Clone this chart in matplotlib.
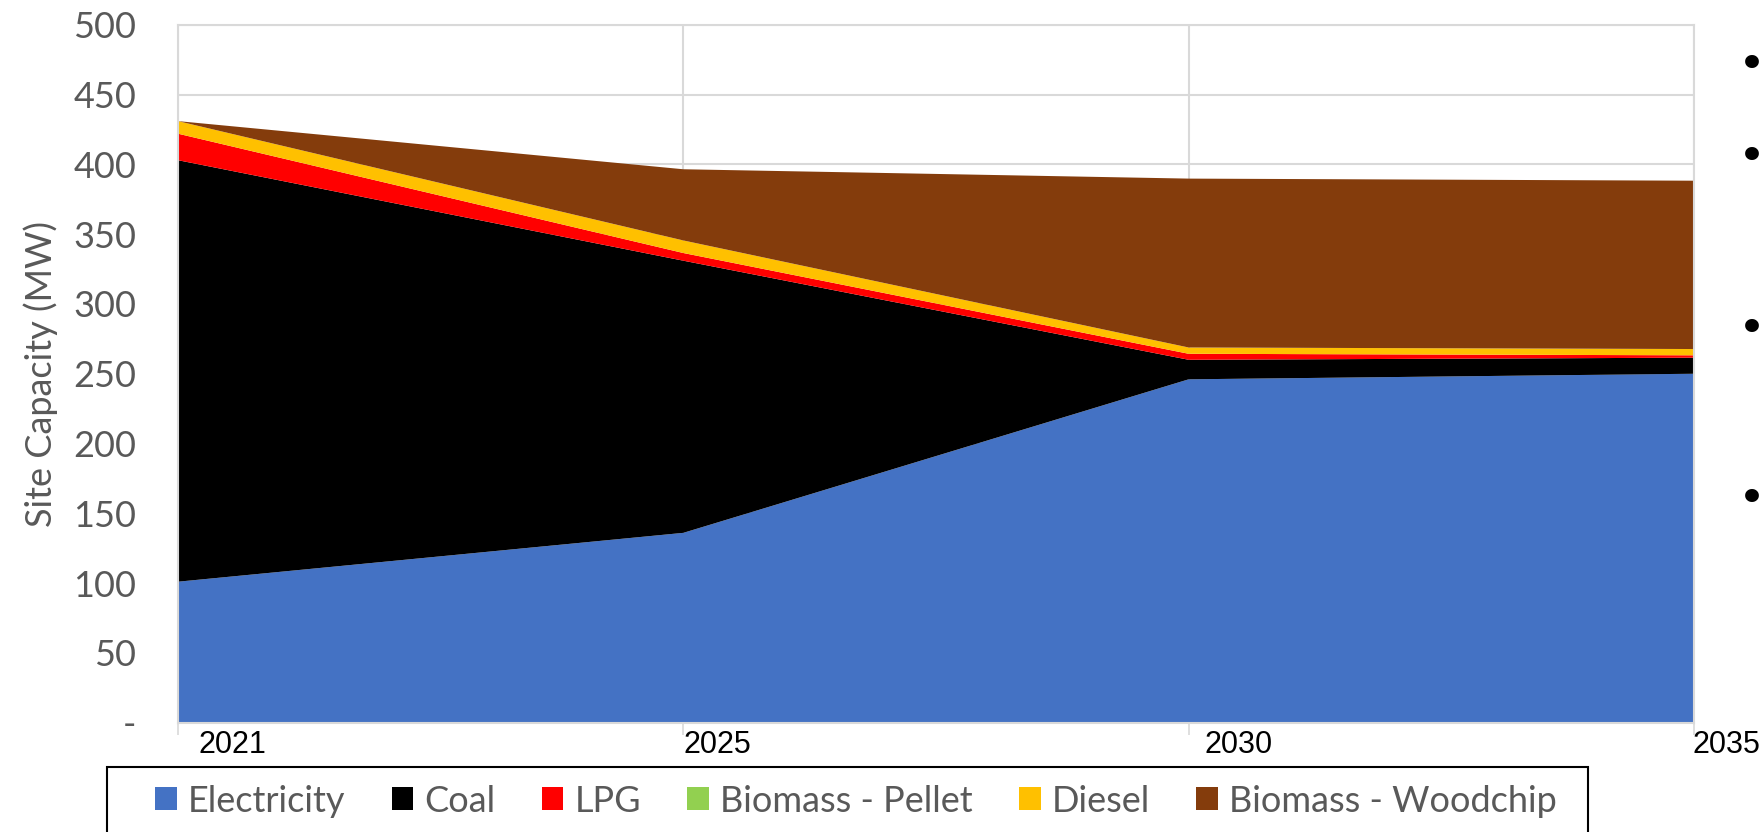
import matplotlib
matplotlib.use("Agg")
import matplotlib.pyplot as plt
import matplotlib.transforms as mtrans
from matplotlib.patches import Rectangle
import numpy as np

years = ["2021", "2025", "2030", "2035"]
series_names = ["Electricity", "Coal", "LPG", "Biomass - Pellet", "Diesel", "Biomass - Woodchip"]
electricity = [101, 136, 246, 250]
coal = [302, 195, 14, 11.5]
lpg = [19, 5.5, 4.3, 1.7]
pellet = [0, 0, 0, 0]
diesel = [9, 9, 4.5, 4.5]
woodchip = [0, 51, 121, 120.6]
colors = ["#4472C4", "#000000", "#FF0000", "#92D050", "#FFC000", "#843C0C"]
yticks = list(range(0, 501, 50))
ytick_labels = ["-" if v == 0 else str(v) for v in yticks]
xlabel_offsets_px = [21, 0, 16, -2]

plt.rcParams['font.family'] = ['Lato', 'DejaVu Sans']

W, H = 1765, 832
fig = plt.figure(figsize=(W / 100, H / 100), dpi=100)
ax = fig.add_axes([0.1008, 0.1314, 0.9598 - 0.1008, 0.9702 - 0.1314])

x = np.arange(len(years))
ax.stackplot(x, electricity, coal, lpg, pellet, diesel, woodchip,
             colors=colors, labels=series_names, linewidth=0, zorder=2)

ax.set_xlim(0, len(years) - 1)
ax.set_ylim(0, 500)
grid_c = "#D9D9D9"
ax.set_yticks(yticks)
ax.set_yticklabels(ytick_labels, color="#595959", fontsize=26)
ax.tick_params(axis='y', length=0, pad=30)
ax.set_xticks(x)
ax.set_xticklabels(years, color="black", fontsize=22, ha='left', family='Liberation Sans')
ax.tick_params(axis='x', length=8.6, width=1.2, color=grid_c, pad=-3)
for lbl, off in zip(ax.get_xticklabels(), xlabel_offsets_px):
    lbl.set_transform(lbl.get_transform() + mtrans.ScaledTranslation(off / 100, 0, fig.dpi_scale_trans))

ax.grid(True, color=grid_c, linewidth=1.5, zorder=1)
ax.set_axisbelow(True)
for s in ax.spines.values():
    s.set_color(grid_c)
    s.set_linewidth(1.5)

ax.set_ylabel("Site Capacity (MW)", color="#595959", fontsize=26, labelpad=11)

leg = fig.legend(loc='center left', bbox_to_anchor=(155 / W, 1 - 801 / H), ncol=6,
                 fontsize=26, frameon=False,
                 handlelength=0.6, handleheight=0.6, handletextpad=0.3,
                 columnspacing=1.29, borderpad=0, borderaxespad=0,
                 labelcolor="#595959")

fig.patches.append(Rectangle((107 / W, -0.05), (1588 - 107) / W, 0.05 + 1 - 767 / H,
                             transform=fig.transFigure, fill=False,
                             edgecolor='black', linewidth=1.5))

for yy in [67, 159, 330, 500]:
    fig.text(1752 / W, 1 - yy / H, "\u2022", fontsize=34, ha='center', va='center',
             color='black', family='DejaVu Sans')

fig.savefig("out.png", dpi=100)
